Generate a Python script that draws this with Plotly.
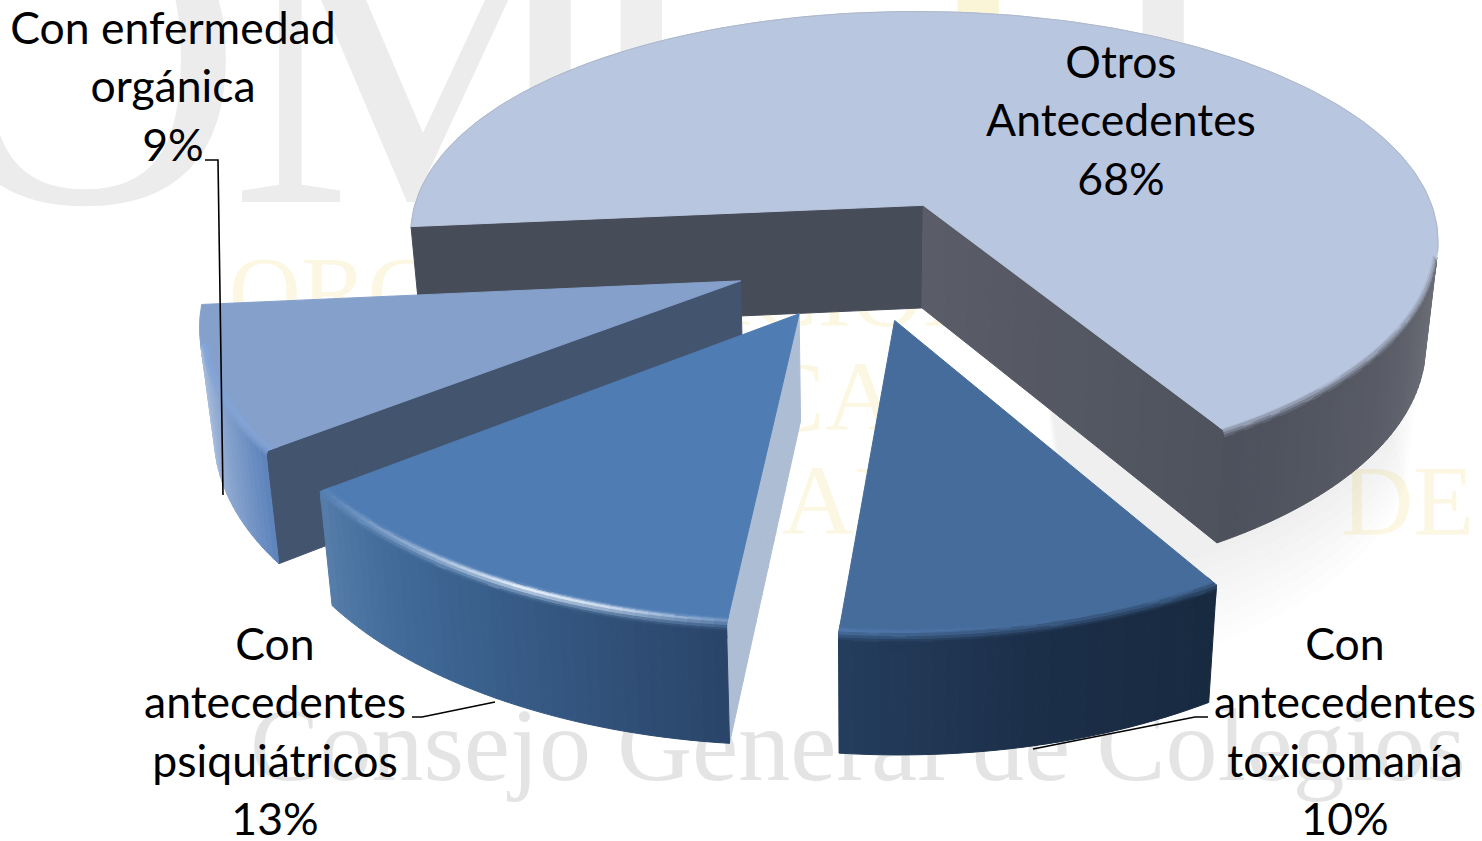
import math
import plotly.graph_objects as go

# ---- data ----
CATEGORIES = ["Otros Antecedentes", "Con antecedentes toxicomanía", "Con antecedentes psiquiátricos", "Con enfermedad orgánica"]
VALUES = [68, 10, 13, 9]
LABEL_LINES = [
    ["Otros", "Antecedentes", "68%"],
    ["Con", "antecedentes", "toxicomanía", "10%"],
    ["Con", "antecedentes", "psiquiátricos", "13%"],
    ["Con enfermedad", "orgánica", "9%"],
]
LABEL_X = [1121, 1345, 275, 173]
LABEL_Y = [67, 649, 649, 33]
LINE_GAP = 58.3

# ---- geometry of the 3-D pie (view, not data) ----
W, H_PX = 1482, 841
CX, CY, RX, RY = 865, 258, 525, 244.6
PERSP_X, PERSP_Y_FRONT, PERSP_Y_BACK, DEPTH = 0.145, 0.155, 0.175, 105
EXPLODE = 0.2514
START_DEG = 264.7

def project(a, b, z=0.0):
    sx = 1 / (1 + PERSP_X * b)
    sy = 1 / (1 + (PERSP_Y_FRONT if b < 0 else PERSP_Y_BACK) * b)
    x = CX + RX * a * sx
    y = CY - RY * b * sy + DEPTH * z * sy ** 0.6
    x = CX + (x - CX) * (1 - 0.022 * z)
    return x, y

def hex2(c):
    c = c.lstrip("#")
    return [int(c[i:i + 2], 16) for i in (0, 2, 4)]

def mix(c1, c2, t):
    a, b = hex2(c1), hex2(c2)
    v = [a[i] + (b[i] - a[i]) * t for i in range(3)]
    return "#%02x%02x%02x" % tuple(int(max(0, min(255, round(q)))) for q in v)

def stops(table, x):
    if x <= table[0][0]:
        return table[0][1]
    for (x0, c0), (x1, c1) in zip(table, table[1:]):
        if x <= x1:
            return mix(c0, c1, (x - x0) / (x1 - x0))
    return table[-1][1]

# colour styling per slice
STYLE = [
    dict(top="#b9c6df", wall0="#474d58", wall0o="#474d58", wall1="#5a5d68", wall1o="#4f535e",
         rim=[(75, "#a0a2a8"), (90, "#85878e"), (100, "#6f727a"), (125, "#595c66"), (150, "#4c505c")],
         hl=[(70, 0.0), (150, 0.0)], hlc="#b9c6df"),
    dict(top="#466c9b", wall0="#466c9b", wall0o="#466c9b", wall1="#466c9b", wall1o="#466c9b",
         rim=[(150, "#182a40"), (168, "#1c2f49"), (187, "#253f5f")],
         hl=[(150, 0.0), (170, 0.05), (187, 0.3)], hlc="#6d9bd8"),
    dict(top="#4f7cb3", wall0="#adbdd3", wall0o="#adbdd3", wall1="#4f7cb3", wall1o="#4f7cb3",
         rim=[(186, "#2a4569"), (205, "#365a85"), (222, "#436c9b"), (234, "#5a80ac")],
         hl=[(186, 0.25), (197, 0.85), (205, 1.0), (220, 0.4), (234, 0.0)], hlc="#eef6ff"),
    dict(top="#85a0cb", wall0="#43546f", wall0o="#43546f", wall1="#85a0cb", wall1o="#85a0cb",
         rim=[(232, "#5b82bb"), (240, "#7b9ac8"), (250, "#9bb2d6"), (262, "#b9cbe7"), (266, "#c4d4ec")],
         hl=[(232, 0.3), (266, 0.5)], hlc="#7fabec"),
]

traces = []

def add_polys(polys, color, opacity=1.0, line=True):
    xs, ys = [], []
    for p in polys:
        xs += [q[0] for q in p] + [p[0][0], None]
        ys += [q[1] for q in p] + [p[0][1], None]
    traces.append(go.Scatter(x=xs, y=ys, mode="lines", fill="toself", fillcolor=color,
                             line=dict(color=color, width=1.0 if line else 0), opacity=opacity,
                             hoverinfo="skip", showlegend=False))

def add_group(items):
    groups = {}
    for color, poly in items:
        groups.setdefault(color, []).append(poly)
    for color, polys in groups.items():
        add_polys(polys, color)

def area(p):
    return sum(p[i][0] * p[(i + 1) % len(p)][1] - p[(i + 1) % len(p)][0] * p[i][1] for i in range(len(p))) / 2

# ---- watermark (behind the chart) ----
WM_BIG = ["O", "M", "I", "I", "I"]
WM_BIG_X = [85, 425, 641, 1163, 978]
WM_BIG_Y = [92, 92, 92, 92, 92]
WM_BIG_COL = ["#ececec", "#ececec", "#eeeeee", "#ededed", "#fbf5d8"]
traces.append(go.Scatter(x=WM_BIG_X, y=WM_BIG_Y, mode="text", text=WM_BIG,
                         textfont=dict(family="Liberation Serif", size=440, color=WM_BIG_COL),
                         hoverinfo="skip", showlegend=False))
WM_YELLOW = ["ORGANIZACION", "MEDICA", "COLEGIAL", "DE ESPAÑA"]
WM_YELLOW_X = [612, 700, 665, 1610]
WM_YELLOW_Y = [300, 405, 509, 509]
traces.append(go.Scatter(x=WM_YELLOW_X, y=WM_YELLOW_Y, mode="text", text=WM_YELLOW,
                         textfont=dict(family="Liberation Serif", size=100, color="#fbf7e2"),
                         hoverinfo="skip", showlegend=False))
WM_GREY = ["Consejo General de Colegios"]
traces.append(go.Scatter(x=[858], y=[754], mode="text", text=WM_GREY,
                         textfont=dict(family="Liberation Serif", size=104, color="#e4e4e4"),
                         hoverinfo="skip", showlegend=False))

# ---- pie built from VALUES ----
total = sum(VALUES)
angles = []
cur = START_DEG
for v in VALUES:
    angles.append((cur, cur + 360 * v / total))
    cur += 360 * v / total

def slice_geo(i):
    t0, t1 = angles[i]
    mid = math.radians((t0 + t1) / 2)
    ox, oy = EXPLODE * math.sin(mid), EXPLODE * math.cos(mid)
    def pt(theta, r=1.0, z=0.0):
        th = math.radians(theta)
        return project(ox + r * math.sin(th), oy + r * math.cos(th), z)
    return t0, t1, pt

def smooth(e0, e1, x):
    t = max(0.0, min(1.0, (x - e0) / (e1 - e0)))
    return t * t * (3 - 2 * t)

def slice_parts(i):
    t0, t1, pt = slice_geo(i)
    st = STYLE[i]
    steps = max(12, int((t1 - t0) / 1.2))
    thetas = [t0 + (t1 - t0) * k / steps for k in range(steps + 1)]
    # walls (straight cut faces), strips along the radius; only faces that look at the viewer
    items = []
    for edge, c0, c1, sign in ((t0, st["wall0"], st["wall0o"], -1), (t1, st["wall1"], st["wall1o"], 1)):
        whole = [pt(edge, 0), pt(edge, 1), pt(edge, 1, 1), pt(edge, 0, 1)]
        if area(whole) * sign <= 0:
            continue
        n = 12
        for k in range(n):
            r0, r1 = k / n, (k + 1) / n
            q = [pt(edge, r0), pt(edge, r1), pt(edge, r1, 1), pt(edge, r0, 1)]
            items.append((mix(c0, c1, (k + .5) / n), q))
    add_group(items)
    # outer rim
    items = []
    for a, b in zip(thetas, thetas[1:]):
        q = [pt(a), pt(b), pt(b, 1, 1), pt(a, 1, 1)]
        if area(q) >= 0:
            continue
        m = (a + b) / 2 % 360
        items.append((stops(st["rim"], m), q))
    add_group(items)
    # top
    top = [pt(t0, 0.0)] + [pt(t) for t in thetas]
    add_polys([top], st["top"])
    # bevel: a rounded edge between top and rim
    rows = 14
    items = []
    back = []
    for a, b in zip(thetas, thetas[1:]):
        q = [pt(a), pt(b), pt(b, 1, 1), pt(a, 1, 1)]
        if area(q) >= 0:
            back.append(pt(a))
            continue
        m = (a + b) / 2 % 360
        rimc = stops(st["rim"], m)
        w = 0.0
        tab = st["hl"]
        if m <= tab[0][0]:
            w = tab[0][1]
        else:
            w = tab[-1][1]
            for (x0, v0), (x1, v1) in zip(tab, tab[1:]):
                if m <= x1:
                    w = v0 + (v1 - v0) * (m - x0) / (x1 - x0)
                    break
        def bev(th, u):
            return pt(th, 0.975 + 0.025 * min(1, u * 1.6), 0.12 * max(0, (u - 0.5) * 2))
        for k in range(rows):
            u0, u1 = k / rows, (k + 1) / rows
            u = (u0 + u1) / 2
            base = mix(st["top"], rimc, smooth(0.38, 0.78, u))
            col = mix(base, st["hlc"], w * math.exp(-((u - 0.42) / 0.16) ** 2))
            items.append((col, [bev(a, u0), bev(b, u0), bev(b, u1), bev(a, u1)]))
    add_group(items)
    # thin darker edge on the far side of the biggest slice
    if i == 0 and back:
        traces.append(go.Scatter(x=[p[0] for p in back], y=[p[1] for p in back], mode="lines",
                                 line=dict(color="#aeb8ca", width=1), hoverinfo="skip", showlegend=False))

# soft shadow cast by the biggest slice
_, _, pt0 = slice_geo(0)
for zs in (1.08, 1.2, 1.32, 1.44, 1.56, 1.68, 1.8, 1.92):
    poly = [pt0(120, 0.9, 0)] + [pt0(th, 1, zs) for th in range(108, 168, 3)] + [pt0(160, 0.6, 0)]
    add_polys([poly], "#000000", opacity=0.006, line=False)

for idx in (0, 3, 2, 1):
    slice_parts(idx)

# ---- leader lines ----
LEADER_X = [[205, 218, 223], [412, 422, 495], [1208, 1195, 1033]]
LEADER_Y = [[160, 160, 495], [717, 717, 702], [717, 717, 749]]
for lx, ly in zip(LEADER_X, LEADER_Y):
    traces.append(go.Scatter(x=lx, y=ly, mode="lines", line=dict(color="black", width=1.6),
                             hoverinfo="skip", showlegend=False))

# ---- labels ----
tx, ty, tt = [], [], []
for lines, x0, y0 in zip(LABEL_LINES, LABEL_X, LABEL_Y):
    for k, s in enumerate(lines):
        tx.append(x0)
        ty.append(y0 + k * LINE_GAP)
        tt.append(s)
traces.append(go.Scatter(x=tx, y=ty, mode="text", text=tt,
                         textfont=dict(family="Lato", size=44.5, color="black"),
                         hoverinfo="skip", showlegend=False))

fig = go.Figure(traces)
fig.update_layout(
    width=W, height=H_PX, margin=dict(l=0, r=0, t=0, b=0),
    paper_bgcolor="white", plot_bgcolor="white", showlegend=False,
    xaxis=dict(range=[0, W], visible=False, fixedrange=True),
    yaxis=dict(range=[H_PX, 0], visible=False, fixedrange=True),
)
fig.write_html("out.html", config={"displayModeBar": False},
               post_script="document.body.style.margin='0';")
